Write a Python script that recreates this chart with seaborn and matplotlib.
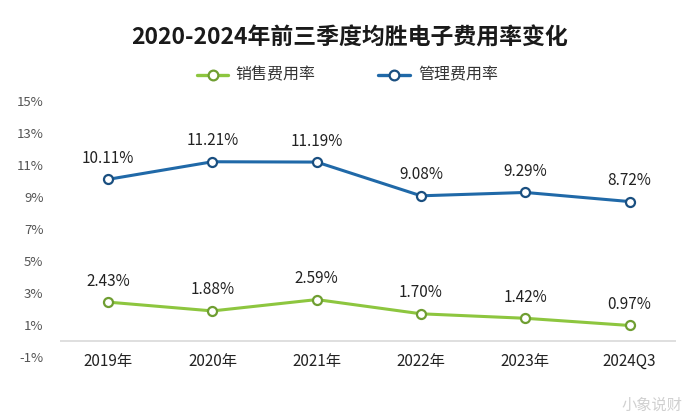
import matplotlib
matplotlib.use('Agg')
import matplotlib.pyplot as plt
import seaborn as sns
import pandas as pd
from matplotlib.lines import Line2D

years = ['2019年', '2020年', '2021年', '2022年', '2023年', '2024Q3']
sales_rate = [2.43, 1.88, 2.59, 1.70, 1.42, 0.97]
admin_rate = [10.11, 11.21, 11.19, 9.08, 9.29, 8.72]
y_ticks = [-1, 1, 3, 5, 7, 9, 11, 13, 15]

green = '#8dc63f'
green_edge = '#6f9e32'
blue = '#2069a8'
blue_edge = '#1a4f80'

sns.set_style('white')
plt.rcParams['font.family'] = ['Noto Sans CJK SC', 'DejaVu Sans']

df = pd.DataFrame({'year': years, 'idx': range(len(years)),
                   '销售费用率': sales_rate, '管理费用率': admin_rate})
long = df.melt(id_vars=['year', 'idx'], var_name='series', value_name='rate')

fig = plt.figure(figsize=(7, 4.18), dpi=100)
ax = fig.add_axes([0.086, 0.146, 0.879, 0.612])

sns.lineplot(data=long, x='idx', y='rate', hue='series',
             palette={'销售费用率': green, '管理费用率': blue},
             marker='o', markersize=6.5, markerfacecolor='white',
             markeredgewidth=1.6, linewidth=2.2, ax=ax, legend=False)
for line, c in zip(ax.lines, [green_edge, blue_edge]):
    line.set_markeredgecolor(c)

for series in [sales_rate, admin_rate]:
    for i, v in enumerate(series):
        ax.annotate(f'{v:.2f}%', (i, v), xytext=(0, 9), textcoords='offset points',
                    ha='center', va='bottom', fontsize=11, color='#222222')

ax.axhline(0, color='#d9d9d9', linewidth=1.2, zorder=0)
ax.set_xlim(-0.46, 5.44)
ax.set_ylim(-1, 15)
ax.set_yticks(y_ticks)
ax.set_yticklabels([f'{t}%' for t in y_ticks], fontsize=9.5, color='#555555')
ax.set_xticks(range(len(years)))
ax.set_xticklabels(years, fontsize=11, color='#222222')
ax.tick_params(axis='y', length=0, pad=12)
ax.tick_params(axis='x', length=0, pad=-3)
ax.set_xlabel('')
ax.set_ylabel('')
for s in ax.spines.values():
    s.set_visible(False)

fig.text(0.5, 0.91, '2020-2024年前三季度均胜电子费用率变化', ha='center', va='center',
         fontsize=16.5, fontweight='bold', color='#1a1a1a')

# legend drawn by hand in figure coords
fig.add_artist(Line2D([0.282, 0.326], [0.82, 0.82], color=green, linewidth=2.4))
fig.add_artist(Line2D([0.304], [0.82], color=green_edge, marker='o', markersize=7,
                      markerfacecolor='white', markeredgewidth=1.6))
fig.text(0.336, 0.82, '销售费用率', ha='left', va='center', fontsize=11.5, color='#333333')
fig.add_artist(Line2D([0.54, 0.586], [0.82, 0.82], color=blue, linewidth=2.4))
fig.add_artist(Line2D([0.563], [0.82], color=blue_edge, marker='o', markersize=7,
                      markerfacecolor='white', markeredgewidth=1.6))
fig.text(0.597, 0.82, '管理费用率', ha='left', va='center', fontsize=11.5, color='#333333')

fig.text(0.975, 0.03, '小象说财', ha='right', va='center', fontsize=11, color='#d0d0d0')

fig.savefig('out.png', dpi=100, facecolor='white')
